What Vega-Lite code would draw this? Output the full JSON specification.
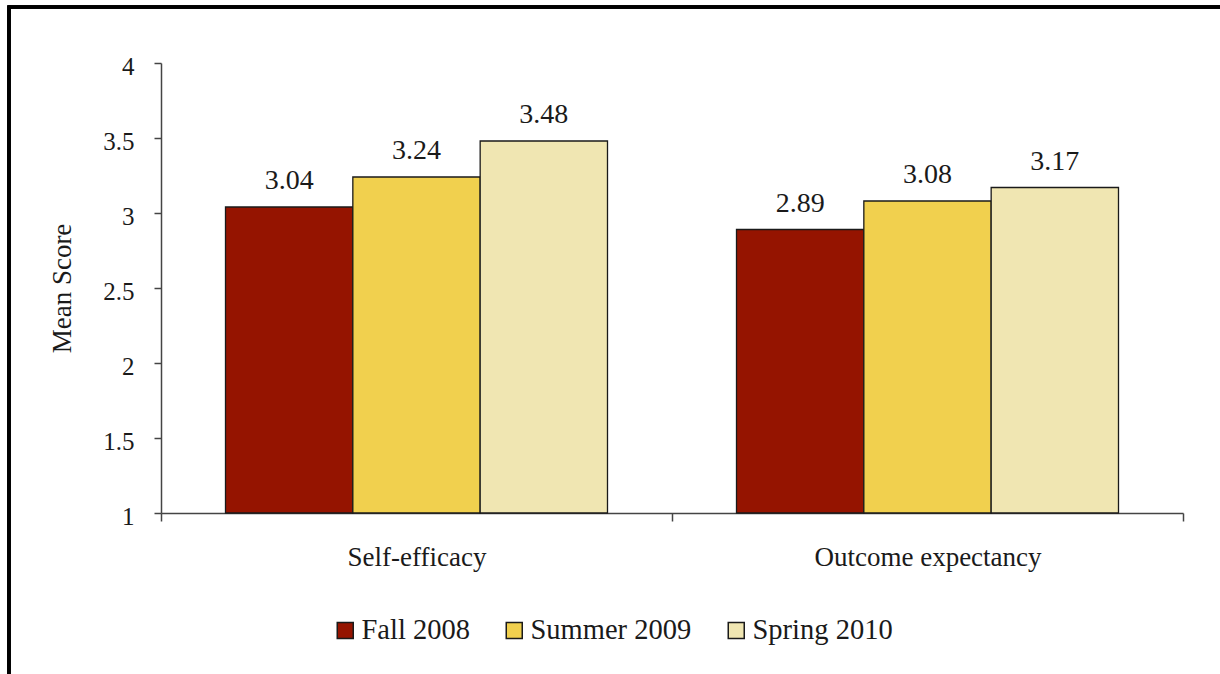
{
  "$schema": "https://vega.github.io/schema/vega-lite/v6.json",
  "width": 1022,
  "height": 450,
  "autosize": "none",
  "padding": {"left": 161, "top": 63, "right": 37, "bottom": 161},
  "background": "white",
  "config": {
    "font": "Liberation Serif",
    "view": {"stroke": null}
  },
  "data": {
    "values": [
      {"measure": "Self-efficacy", "term": "Fall 2008", "score": 3.04},
      {"measure": "Self-efficacy", "term": "Summer 2009", "score": 3.24},
      {"measure": "Self-efficacy", "term": "Spring 2010", "score": 3.48},
      {"measure": "Outcome expectancy", "term": "Fall 2008", "score": 2.89},
      {"measure": "Outcome expectancy", "term": "Summer 2009", "score": 3.08},
      {"measure": "Outcome expectancy", "term": "Spring 2010", "score": 3.17}
    ]
  },
  "encoding": {
    "x": {
      "field": "measure",
      "type": "nominal",
      "sort": ["Self-efficacy", "Outcome expectancy"],
      "scale": {"paddingInner": 0, "paddingOuter": 0},
      "axis": {
        "title": null,
        "labelAngle": 0,
        "labelLimit": 0,
        "tickBand": "extent",
        "domainColor": "#444",
        "domainWidth": 1.5,
        "tickColor": "#444",
        "tickWidth": 1.5,
        "tickSize": 8,
        "labelFontSize": 27,
        "labelColor": "#1a1a1a",
        "labelPadding": 23
      }
    }
  },
  "layer": [
    {
      "mark": {"type": "bar", "stroke": "#1a1a1a", "strokeWidth": 1.3},
      "encoding": {
        "xOffset": {
          "field": "term",
          "type": "nominal",
          "sort": ["Fall 2008", "Summer 2009", "Spring 2010"],
          "scale": {"paddingInner": 0, "paddingOuter": 0.5066}
        },
        "y": {
          "field": "score",
          "type": "quantitative",
          "scale": {"domain": [1, 4], "zero": false, "nice": false},
          "axis": {
            "values": [1, 1.5, 2, 2.5, 3, 3.5, 4],
            "format": "~g",
            "grid": false,
            "domainColor": "#444",
            "domainWidth": 1.5,
            "tickColor": "#444",
            "tickWidth": 1.5,
            "tickSize": 7,
            "labelFontSize": 25,
            "labelColor": "#1a1a1a",
            "labelPadding": 20,
            "labelOffset": 3,
            "title": "Mean Score",
            "titleFont": "Liberation Serif",
            "titleFontSize": 27,
            "titleFontWeight": "normal",
            "titleColor": "#1a1a1a",
            "titlePadding": 26
          }
        },
        "y2": {"datum": 1},
        "color": {
          "field": "term",
          "type": "nominal",
          "sort": ["Fall 2008", "Summer 2009", "Spring 2010"],
          "scale": {
            "domain": ["Fall 2008", "Summer 2009", "Spring 2010"],
            "range": ["#951400", "#F1D04E", "#F0E6B2"]
          },
          "legend": {
            "title": null,
            "orient": "none",
            "direction": "horizontal",
            "legendX": 170,
            "legendY": 553,
            "symbolType": "square",
            "symbolSize": 256,
            "symbolStrokeColor": "#1a1a1a",
            "symbolStrokeWidth": 1.5,
            "symbolOpacity": 1,
            "labelFontSize": 28.5,
            "labelLimit": 0,
            "labelColor": "#1a1a1a",
            "labelOffset": 2,
            "columnPadding": 30
          }
        }
      }
    },
    {
      "mark": {"type": "text", "baseline": "bottom", "dy": -12, "fontSize": 28, "color": "#1a1a1a"},
      "encoding": {
        "xOffset": {
          "field": "term",
          "type": "nominal",
          "sort": ["Fall 2008", "Summer 2009", "Spring 2010"],
          "scale": {"paddingInner": 0, "paddingOuter": 0.5066}
        },
        "y": {"field": "score", "type": "quantitative"},
        "text": {"field": "score", "type": "quantitative", "format": ".2f"}
      }
    },
    {
      "mark": {"type": "rule", "color": "#000", "strokeWidth": 3, "clip": false},
      "encoding": {
        "x": {"datum": "Self-efficacy", "bandPosition": -0.2975},
        "x2": {"datum": "Outcome expectancy", "bandPosition": 1.1},
        "y": {"datum": 4.373}
      }
    },
    {
      "mark": {"type": "rule", "color": "#000", "strokeWidth": 3, "clip": false},
      "encoding": {
        "x": {"datum": "Self-efficacy", "bandPosition": -0.2975},
        "y": {"datum": 4.383},
        "y2": {"datum": -0.2}
      }
    }
  ]
}
